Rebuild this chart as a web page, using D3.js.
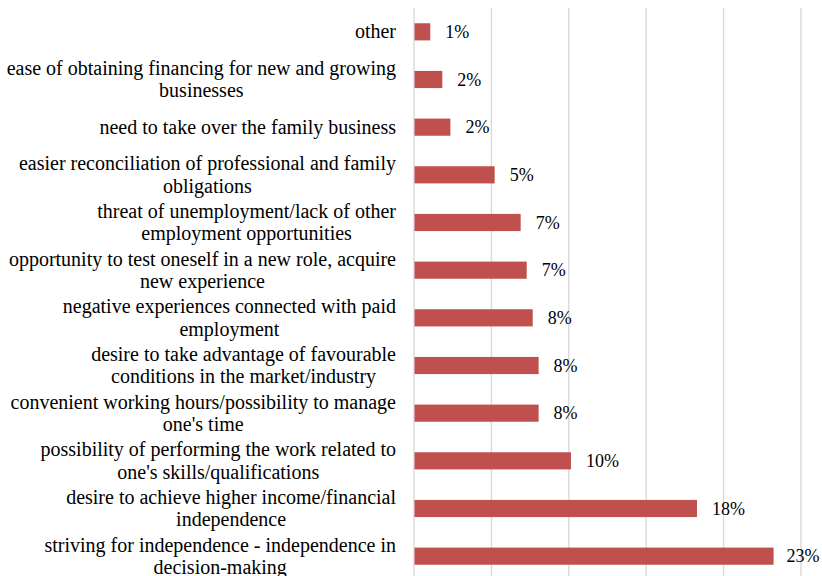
<!DOCTYPE html>
<html>
<head>
<meta charset="utf-8">
<script src="https://cdn.jsdelivr.net/npm/d3@7"></script>
<style>
  html, body { margin: 0; padding: 0; background: #fff; }
  svg { display: block; }
  text { font-family: "Liberation Serif", "Times New Roman", serif; fill: #000; }
</style>
</head>
<body>
<div id="chart"></div>
<script>
// Motives for starting a business (share of answers, %)
const categories = [
  "other",
  "ease of obtaining financing for new and growing\nbusinesses",
  "need to take over the family business",
  "easier reconciliation of professional and family\nobligations",
  "threat of unemployment/lack of other\nemployment opportunities",
  "opportunity to test oneself in a new role, acquire\nnew experience",
  "negative experiences connected with paid\nemployment",
  "desire to take advantage of favourable\nconditions in the market/industry",
  "convenient working hours/possibility to manage\none's time",
  "possibility of performing the work related to\none's skills/qualifications",
  "desire to achieve higher income/financial\nindependence",
  "striving for independence - independence in\ndecision-making"
];
const values = [1.05, 1.83, 2.35, 5.21, 6.89, 7.28, 7.67, 8.05, 8.05, 10.14, 18.28, 23.23];
const gridTicks = [0, 5, 10, 15, 20, 25];

const W = 822, H = 576;
const catFont = 20, valFont = 18, lineH = 22.5;
const plotLeft = 414, labelRight = 396;

const svg = d3.select("#chart").append("svg")
  .attr("width", W).attr("height", H);

const x = d3.scaleLinear().domain([0, 25]).range([plotLeft, plotLeft + 387]);
const y = d3.scaleBand().domain(d3.range(categories.length))
  .range([8, 580]).paddingInner(0.64).paddingOuter(0.32);

// vertical gridlines
svg.append("g").selectAll("line").data(gridTicks).join("line")
  .attr("x1", d => x(d)).attr("x2", d => x(d))
  .attr("y1", 8).attr("y2", H)
  .attr("stroke", "#d9d9d9").attr("stroke-width", 1.4);

// bars
svg.append("g").selectAll("rect").data(values).join("rect")
  .attr("x", x(0) + 0.5)
  .attr("y", (d, i) => y(i))
  .attr("width", d => x(d) - x(0) - 0.5)
  .attr("height", y.bandwidth())
  .attr("fill", "#c0504d");

// value labels
const fmt = d3.format(".0%");
svg.append("g").selectAll("text").data(values).join("text")
  .attr("font-size", valFont)
  .attr("y", (d, i) => y(i) + y.bandwidth() / 2)
  .attr("dy", "0.35em")
  .text(d => fmt(d / 100))
  .each(function (d) {
    const w = this.getComputedTextLength();
    const start = Math.min(x(d) + 15, W - 2.5 - w);
    d3.select(this).attr("x", start);
  });

// category labels: centred multi-line blocks, right-aligned against the plot
const labels = svg.append("g").selectAll("text").data(categories).join("text")
  .attr("font-size", catFont)
  .attr("text-anchor", "middle");

labels.each(function (d, i) {
  const lines = d.split("\n");
  const t = d3.select(this);
  const cy = y(i) + y.bandwidth() / 2;
  const y0 = cy - (lines.length - 1) * lineH / 2;
  lines.forEach((ln, k) => {
    t.append("tspan").attr("y", y0 + k * lineH).attr("dy", "0.33em").text(ln);
  });
  let maxW = 0;
  t.selectAll("tspan").each(function () {
    maxW = Math.max(maxW, this.getComputedTextLength());
  });
  t.selectAll("tspan").attr("x", labelRight - maxW / 2);
});
</script>
</body>
</html>
